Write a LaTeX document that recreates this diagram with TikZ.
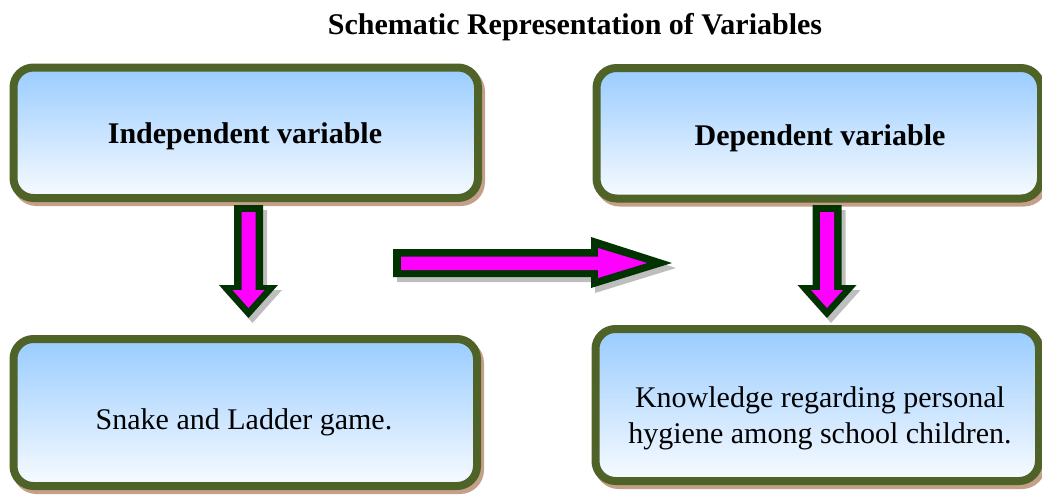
\documentclass[tikz,border=0pt]{standalone}
\usepackage{fontspec}
\setmainfont{Liberation Serif}
\definecolor{boxborder}{RGB}{79,98,40}
\definecolor{boxshadow}{RGB}{196,160,138}
\definecolor{boxtop}{RGB}{153,204,255}
\definecolor{boxbottom}{RGB}{248,251,255}
\definecolor{arrowline}{RGB}{0,51,0}
\definecolor{arrowfill}{RGB}{255,0,255}
\definecolor{arrowshadow}{RGB}{190,190,190}
\begin{document}
\begin{tikzpicture}[x=1pt,y=-1pt,
  box/.style={draw=boxborder, line width=8pt, rounded corners=20pt,
    top color=boxtop, bottom color=boxbottom, inner sep=0pt,
    preaction={draw=boxshadow, fill=boxshadow, line width=8pt,
      transform canvas={shift={(3pt,-4pt)}}}},
  boxtext/.style={font=\fontsize{30}{36}\selectfont, align=center, inner sep=0pt},
  boldtext/.style={font=\fontsize{30}{36}\selectfont\bfseries, inner sep=0pt},
  arrowouter/.style={fill=arrowline,
    preaction={fill=arrowshadow, transform canvas={shift={(4pt,-5pt)}}}},
  arrowinner/.style={fill=arrowfill}]
\useasboundingbox (0,0) rectangle (1042,496);

\node[box, minimum width=464.5pt, minimum height=130.5pt] (indep) at (245.75,132.75) {};
\node[box, minimum width=444.5pt, minimum height=130.5pt] (dep) at (818.75,133.25) {};
\node[box, minimum width=463.5pt, minimum height=147pt] (game) at (245.25,412.5) {};
\node[box, minimum width=443.5pt, minimum height=152pt] (know) at (817.25,405) {};

\node[boldtext] (title) at (575,27) {Schematic Representation of Variables};
\node[boldtext] (indeptext) at (245,136) {Independent variable};
\node[boldtext] (deptext) at (820,138) {Dependent variable};
\node[boxtext] (gametext) at (244,422) {Snake and Ladder game.};
\node[boxtext] (knowtext) at (820,418) {Knowledge regarding personal\\hygiene among school children.};

% left down arrow
\fill[arrowouter] (234,205) -- (263,205) -- (263,285) -- (278,285) -- (248.5,318)
  -- (219,285) -- (234,285) -- cycle;
\fill[arrowinner] (241.5,212) -- (255.5,212) -- (255.5,290) -- (264.5,290) -- (248.5,308)
  -- (232.5,290) -- (241.5,290) -- cycle;
% right down arrow
\fill[arrowouter] (812.5,205) -- (841.5,205) -- (841.5,285) -- (856.5,285) -- (827,318)
  -- (797.5,285) -- (812.5,285) -- cycle;
\fill[arrowinner] (820,212) -- (834,212) -- (834,290) -- (843,290) -- (827,308)
  -- (811,290) -- (820,290) -- cycle;
% horizontal arrow
\fill[arrowouter] (393,249) -- (591,249) -- (591,237) -- (672,263) -- (591,288)
  -- (591,277) -- (393,277) -- cycle;
\fill[arrowinner] (401,256.5) -- (598,256.5) -- (598,248) -- (647,263) -- (598,278)
  -- (598,270) -- (401,270) -- cycle;
\end{tikzpicture}
\end{document}
